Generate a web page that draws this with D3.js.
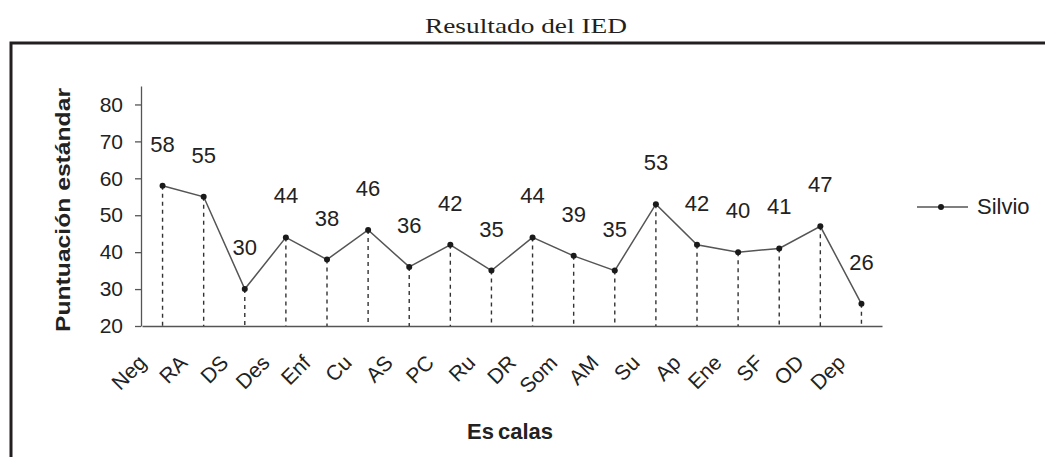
<!DOCTYPE html>
<html>
<head>
<meta charset="utf-8">
<script src="https://cdn.jsdelivr.net/npm/d3@7"></script>
<style>
  html, body { margin: 0; padding: 0; background: #fff; }
  svg { display: block; }
</style>
</head>
<body>
<svg id="chart" width="1045" height="457"></svg>
<script>
const categories = ["Neg","RA","DS","Des","Enf","Cu","AS","PC","Ru","DR","Som","AM","Su","Ap","Ene","SF","OD","Dep"];
const silvio = [58,55,30,44,38,46,36,42,35,44,39,35,53,42,40,41,47,26];
const yTicks = [20,30,40,50,60,70,80];
const seriesName = "Silvio";
const chartTitle = "Resultado del IED";
const yTitle = "Puntuación estándar";

const svg = d3.select("#chart");
const font = "'Liberation Sans', Arial, sans-serif";
const textColor = "#222";
const axisColor = "#555";

// frame
svg.append("path")
  .attr("d", "M11,457 V43 H1045")
  .attr("fill", "none").attr("stroke", "#231f20").attr("stroke-width", 3);

// title
svg.append("text")
  .attr("x", 526).attr("y", 33)
  .attr("text-anchor", "middle")
  .attr("font-family", "'Liberation Serif', 'Times New Roman', serif")
  .attr("font-size", 22)
  .attr("fill", "#231f20")
  .attr("textLength", 202).attr("lengthAdjust", "spacingAndGlyphs")
  .text(chartTitle);

const x = d3.scaleBand().domain(categories).range([142, 882]).padding(0);
const cx = d => x(d) + x.bandwidth() / 2;
const y = d3.scaleLinear().domain([20, 85]).range([326, 86]);

// y axis
const yAxis = svg.append("g").attr("transform", "translate(141,0)")
  .call(d3.axisLeft(y).tickValues(yTicks).tickSize(6).tickSizeOuter(0).tickPadding(12));
yAxis.select(".domain").attr("stroke", axisColor).attr("stroke-width", 1.3);
yAxis.selectAll(".tick line").attr("stroke", axisColor).attr("stroke-width", 1.3);
yAxis.selectAll(".tick text").attr("font-family", font).attr("font-size", 21).attr("fill", textColor);

// x axis
const xAxis = svg.append("g").attr("transform", "translate(0,326)")
  .call(d3.axisBottom(x).tickSize(0).tickSizeOuter(0));
xAxis.select(".domain").attr("stroke", axisColor).attr("stroke-width", 1.5);
xAxis.selectAll(".tick text")
  .attr("font-family", font).attr("font-size", 21).attr("fill", textColor)
  .attr("text-anchor", "end")
  .attr("x", 0).attr("y", 0).attr("dy", 0)
  .attr("transform", "translate(-15,38) rotate(-45)");

// axis titles
svg.append("text")
  .attr("transform", "translate(70,210) rotate(-90)")
  .attr("text-anchor", "middle")
  .attr("font-family", font).attr("font-weight", "bold").attr("font-size", 21)
  .attr("fill", textColor)
  .attr("textLength", 244).attr("lengthAdjust", "spacingAndGlyphs")
  .text(yTitle);

const xt = svg.append("text")
  .attr("x", 510).attr("y", 439)
  .attr("text-anchor", "middle")
  .attr("font-family", font).attr("font-weight", "bold").attr("font-size", 22)
  .attr("fill", textColor);
xt.append("tspan").text("Es");
xt.append("tspan").attr("dx", 4).text("calas");

// drop lines
svg.append("g").selectAll("line").data(categories).join("line")
  .attr("x1", d => cx(d)).attr("x2", d => cx(d))
  .attr("y1", (d, i) => y(silvio[i])).attr("y2", y(20))
  .attr("stroke", "#333").attr("stroke-width", 1.4)
  .attr("stroke-dasharray", "4,4");

// line
const line = d3.line().x((d, i) => cx(categories[i])).y(d => y(d));
svg.append("path").datum(silvio)
  .attr("d", line)
  .attr("fill", "none").attr("stroke", "#555").attr("stroke-width", 1.5);

// markers
svg.append("g").selectAll("circle").data(silvio).join("circle")
  .attr("cx", (d, i) => cx(categories[i])).attr("cy", d => y(d))
  .attr("r", 3).attr("fill", "#1a1a1a");

// data labels
svg.append("g").selectAll("text").data(silvio).join("text")
  .attr("x", (d, i) => cx(categories[i])).attr("y", d => y(d) - 34)
  .attr("text-anchor", "middle")
  .attr("font-family", font).attr("font-size", 22).attr("fill", textColor)
  .text(d => d);

// legend
const lg = svg.append("g");
lg.append("line").attr("x1", 917).attr("x2", 968).attr("y1", 207).attr("y2", 207)
  .attr("stroke", "#555").attr("stroke-width", 1.5);
lg.append("circle").attr("cx", 941).attr("cy", 207).attr("r", 3).attr("fill", "#1a1a1a");
lg.append("text").attr("x", 977).attr("y", 214)
  .attr("font-family", font).attr("font-size", 22).attr("fill", textColor)
  .text(seriesName);
</script>
</body>
</html>
